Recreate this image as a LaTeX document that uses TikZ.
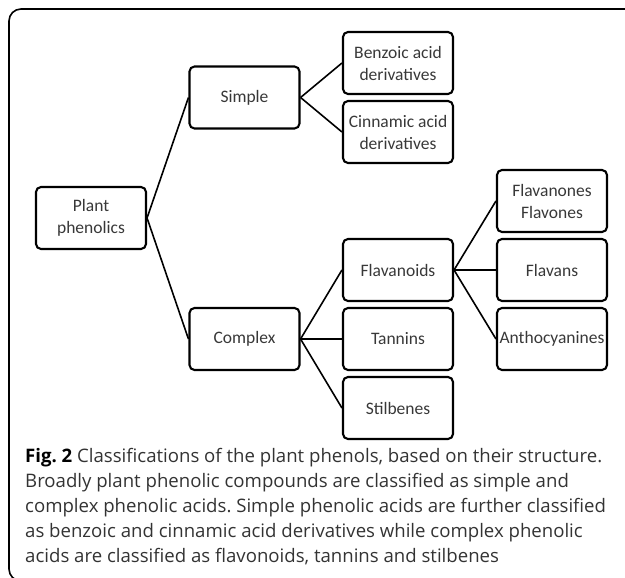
\documentclass[tikz,border=0pt]{standalone}
\usepackage{fontspec}
\setmainfont{Carlito}
\newfontfamily\capfont{Open Sans}
\begin{document}
\frenchspacing
\begin{tikzpicture}[x=1pt,y=-1pt,
  box/.style={draw=black, line width=2.1pt, rounded corners=5pt, minimum width=110pt, minimum height=62pt, inner sep=0pt, align=center, font=\fontsize{17.5}{22}\selectfont, text=black!78},
  link/.style={line width=1.6pt, draw=black}]
\useasboundingbox (0,0) rectangle (625,578);
\begin{scope}
\clip (0,0) rectangle (625,578);
\draw[line width=1.6pt, rounded corners=12pt] (9,9) rectangle (700,581);
\end{scope}
\node[box] (plant) at (91,218) {Plant\\phenolics};
\node[box] (simple) at (244.5,97.5) {Simple};
\node[box] (benzoic) at (398,63) {Benzoic acid\\derivatives};
\node[box] (cinnamic) at (398,132) {Cinnamic acid\\derivatives};
\node[box] (flavones) at (552,201) {Flavanones\\Flavones};
\node[box] (flavanoids) at (398,270) {Flavanoids};
\node[box] (flavans) at (552,270) {Flavans};
\node[box] (complex) at (244.5,339) {Complex};
\node[box] (tannins) at (398,339) {Tannins};
\node[box] (antho) at (552,339) {Anthocyanines};
\node[box] (stil) at (398,408) {Stilbenes};
\draw[link] (plant.east) -- (simple.west);
\draw[link] (plant.east) -- (complex.west);
\draw[link] (simple.east) -- (benzoic.west);
\draw[link] (simple.east) -- (cinnamic.west);
\draw[link] (complex.east) -- (flavanoids.west);
\draw[link] (complex.east) -- (tannins.west);
\draw[link] (complex.east) -- (stil.west);
\draw[link] (flavanoids.east) -- (flavones.west);
\draw[link] (flavanoids.east) -- (flavans.west);
\draw[link] (flavanoids.east) -- (antho.west);
\node[anchor=north west, inner sep=0pt, align=left, font=\capfont\fontsize{18.6}{25}\selectfont, text=black!80] (cap) at (25,448) {\textbf{\color{black}Fig. 2} Classifications of the plant phenols, based on their structure.\\
Broadly plant phenolic compounds are classified as simple and\\
complex phenolic acids. Simple phenolic acids are further classified\\
as benzoic and cinnamic acid derivatives while complex phenolic\\
acids are classified as flavonoids, tannins and stilbenes};
\end{tikzpicture}
\end{document}
